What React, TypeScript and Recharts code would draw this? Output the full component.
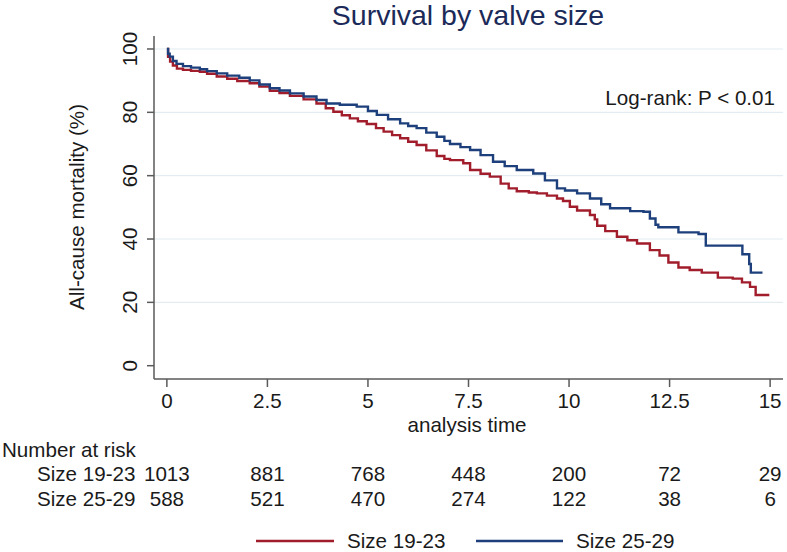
import { LineChart, Line, XAxis, YAxis, CartesianGrid } from 'recharts'

// Kaplan-Meier estimates (years, % surviving)
const smallTime = [0, 0.03, 0.08, 0.15, 0.25, 0.4, 0.6, 0.82, 1.0, 1.24, 1.5, 1.75, 2.06, 2.3, 2.56, 2.8, 3.06, 3.4, 3.72, 3.95, 4.14, 4.35, 4.55, 4.75, 4.97, 5.2, 5.39, 5.6, 5.8, 6.0, 6.21, 6.45, 6.71, 6.9, 7.04, 7.37, 7.54, 7.8, 8.03, 8.3, 8.5, 8.7, 9.0, 9.2, 9.45, 9.7, 9.85, 10.02, 10.2, 10.52, 10.64, 10.7, 10.9, 11.19, 11.45, 11.69, 12.01, 12.25, 12.47, 12.72, 13.0, 13.3, 13.7, 14.07, 14.3, 14.5, 14.64, 14.98]
const smallSurv = [100, 97.5, 96, 94.8, 93.8, 93.4, 93.1, 92.8, 92.2, 91.3, 90.6, 89.9, 89.2, 88.1, 86.8, 86.1, 85.2, 84.1, 82.8, 81.3, 80.2, 79.1, 78.1, 77.2, 76.3, 75.0, 73.9, 72.8, 71.8, 70.7, 69.7, 68.0, 66.2, 65.3, 64.9, 63.9, 61.8, 60.6, 59.7, 57.5, 56.0, 55.1, 54.7, 54.4, 53.7, 52.8, 52.0, 50.2, 49.0, 47.6, 46.2, 44.2, 42.5, 40.7, 39.6, 38.6, 36.5, 34.8, 32.6, 31.0, 30.2, 29.4, 27.8, 27.5, 26.3, 24.9, 22.3, 22.3]

const largeTime = [0, 0.03, 0.07, 0.15, 0.24, 0.4, 0.6, 0.82, 1.0, 1.24, 1.5, 1.8, 2.06, 2.3, 2.56, 2.8, 3.06, 3.4, 3.72, 3.97, 4.3, 4.72, 5.0, 5.22, 5.5, 5.8, 6.0, 6.21, 6.45, 6.71, 6.9, 7.04, 7.3, 7.54, 7.8, 8.11, 8.4, 8.7, 9.11, 9.4, 9.7, 9.9, 10.2, 10.52, 10.8, 11.02, 11.52, 11.85, 12.01, 12.15, 12.22, 12.72, 13.22, 13.4, 14.23, 14.31, 14.48, 14.52, 14.81]
const largeSurv = [100, 98.5, 97.6, 96.2, 95.3, 94.6, 94.1, 93.6, 93.0, 92.3, 91.6, 90.9, 90.1, 88.8, 87.6, 86.9, 86.0, 85.0, 83.9, 82.8, 82.4, 81.8, 80.4, 79.2, 77.8, 76.5, 75.7, 75.0, 73.6, 72.3, 71.0, 70.0, 69.0, 68.1, 66.5, 64.4, 63.0, 61.8, 60.7, 58.5, 56.0, 55.3, 54.4, 52.8, 51.0, 49.7, 48.8, 48.6, 46.5, 44.5, 43.7, 42.1, 41.6, 37.9, 37.9, 35.2, 32.1, 29.4, 29.4]

const xTicks = [0, 2.5, 5, 7.5, 10, 12.5, 15]
const yTicks = [0, 20, 40, 60, 80, 100]
const gridValues = [20, 40, 60, 80, 100]
const riskSmall = [1013, 881, 768, 448, 200, 72, 29]
const riskLarge = [588, 521, 470, 274, 122, 38, 6]
const seriesNames = ['Size 19-23', 'Size 25-29']
const seriesColors = ['#a11d2c', '#1d3f7b']

const smallData = smallTime.map((t, i) => ({ t, s: smallSurv[i] }))
const largeData = largeTime.map((t, i) => ({ t, s: largeSurv[i] }))

const FONT = '"Liberation Sans", Arial, Helvetica, sans-serif'
const FS = 20.6
const TEXT = '#1a1a1a'
const AXIS = '#5a5a5a'

function XTick(props: any) {
  const { x, y, payload } = props
  const i = xTicks.indexOf(payload.value)
  return (
    <g fontFamily={FONT} fontSize={FS} fill={TEXT} textAnchor="middle">
      <text x={x} y={y + 19}>{String(payload.value)}</text>
      <text x={x} y={y + 92}>{riskSmall[i]}</text>
      <text x={x} y={y + 117}>{riskLarge[i]}</text>
    </g>
  )
}

function YTick(props: any) {
  const { x, y, payload } = props
  return (
    <text
      x={x}
      y={y}
      transform={`rotate(-90, ${x}, ${y})`}
      textAnchor="middle"
      fontFamily={FONT}
      fontSize={FS}
      fill={TEXT}
    >
      {payload.value}
    </text>
  )
}

export default function App() {
  return (
    <div style={{ position: 'absolute', left: 0, top: 0, width: 787, height: 552, background: '#fff' }}>
      <LineChart width={787} height={552} margin={{ top: 36, right: 4, left: 114, bottom: 143 }}>
        <CartesianGrid vertical={false} horizontalValues={gridValues} stroke="#e2ecf1" strokeWidth={1.2} />
        <XAxis
          dataKey="t"
          type="number"
          domain={[-0.32, 15.32]}
          ticks={xTicks}
          allowDataOverflow
          height={30}
          tickSize={8}
          tickMargin={2}
          stroke={AXIS}
          strokeWidth={1.5}
          tick={<XTick />}
        />
        <YAxis
          type="number"
          domain={[-4.2, 104.1]}
          ticks={yTicks}
          allowDataOverflow
          width={40}
          tickSize={7}
          tickMargin={10}
          stroke={AXIS}
          strokeWidth={1.5}
          tick={<YTick />}
        />
        <Line
          data={smallData}
          dataKey="s"
          type="stepAfter"
          stroke={seriesColors[0]}
          strokeWidth={2.4}
          dot={false}
          isAnimationActive={false}
        />
        <Line
          data={largeData}
          dataKey="s"
          type="stepAfter"
          stroke={seriesColors[1]}
          strokeWidth={2.4}
          dot={false}
          isAnimationActive={false}
        />
      </LineChart>

      {/* titles, annotations, risk-table row labels and legend */}
      <svg
        width={787}
        height={552}
        style={{ position: 'absolute', left: 0, top: 0, pointerEvents: 'none' }}
        fontFamily={FONT}
      >
        <text x={468} y={25} textAnchor="middle" fontSize={28.5} fill="#1b2a58">
          Survival by valve size
        </text>
        <text
          x={84}
          y={207}
          transform="rotate(-90, 84, 207)"
          textAnchor="middle"
          fontSize={FS}
          fill={TEXT}
        >
          All-cause mortality (%)
        </text>
        <text x={775} y={105} textAnchor="end" fontSize={FS} fill={TEXT}>
          Log-rank: P &lt; 0.01
        </text>
        <text x={467} y={432} textAnchor="middle" fontSize={FS} fill={TEXT}>
          analysis time
        </text>
        <text x={2} y={457} fontSize={FS} fill={TEXT}>Number at risk</text>
        <text x={37} y={481} fontSize={FS} fill={TEXT}>{seriesNames[0]}</text>
        <text x={37} y={506} fontSize={FS} fill={TEXT}>{seriesNames[1]}</text>

        <line x1={256} x2={334} y1={541} y2={541} stroke={seriesColors[0]} strokeWidth={2.4} />
        <text x={347} y={548} fontSize={FS} fill={TEXT}>{seriesNames[0]}</text>
        <line x1={476} x2={563} y1={541} y2={541} stroke={seriesColors[1]} strokeWidth={2.4} />
        <text x={576} y={548} fontSize={FS} fill={TEXT}>{seriesNames[1]}</text>
      </svg>
    </div>
  )
}
